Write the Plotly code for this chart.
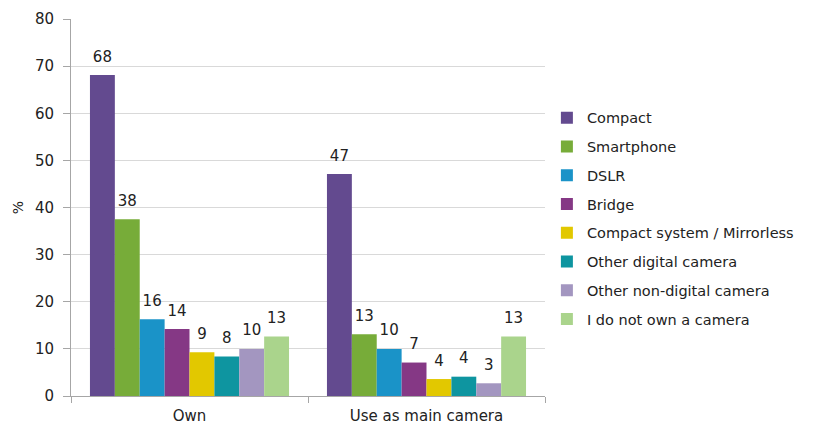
import plotly.graph_objects as go

groups = ["Own", "Use as main camera"]
camera_types = [
    "Compact",
    "Smartphone",
    "DSLR",
    "Bridge",
    "Compact system / Mirrorless",
    "Other digital camera",
    "Other non-digital camera",
    "I do not own a camera",
]
own = [68.1, 37.5, 16.3, 14.2, 9.3, 8.4, 10.0, 12.6]
main_camera = [47.1, 13.1, 10.0, 7.1, 3.6, 4.1, 2.7, 12.6]
colors = ["#634a8f", "#77ac39", "#1a93c8", "#853885", "#e2c800", "#0e95a0", "#a396c0", "#aad48c"]

font_family = "DejaVu Sans, Verdana, sans-serif"
text_color = "#222222"

fig = go.Figure()
for i, name in enumerate(camera_types):
    vals = [own[i], main_camera[i]]
    fig.add_trace(go.Bar(
        x=groups,
        y=vals,
        name=name,
        legendgroup=name,
        offsetgroup=name,
        alignmentgroup="all",
        marker=dict(color=colors[i], line=dict(width=0)),
    ))
    # value labels sitting above each bar
    fig.add_trace(go.Scatter(
        x=groups,
        y=vals,
        mode="markers+text",
        text=[f"{v:.0f}" for v in vals],
        textposition="top center",
        textfont=dict(size=15, color=text_color, family=font_family),
        marker=dict(size=14, color="rgba(0,0,0,0)"),
        offsetgroup=name,
        alignmentgroup="all",
        legendgroup=name,
        showlegend=False,
        hoverinfo="skip",
        cliponaxis=False,
    ))

fig.update_layout(
    width=819,
    height=427,
    margin=dict(l=71, r=274, t=19, b=31, autoexpand=False),
    paper_bgcolor="white",
    plot_bgcolor="white",
    barmode="group",
    scattermode="group",
    bargap=0.16,
    bargroupgap=0,
    scattergap=0.16,
    font=dict(family=font_family, size=15, color=text_color),
    showlegend=True,
    legend=dict(
        x=1.004, xanchor="left",
        y=0.47, yanchor="middle",
        font=dict(size=14.5, color=text_color, family=font_family),
        tracegroupgap=6.9,
        itemwidth=30,
        bgcolor="rgba(0,0,0,0)",
    ),
)

fig.update_xaxes(
    automargin=False,
    showline=True, linecolor="#a6a6a6", linewidth=1,
    ticks="outside", tickson="boundaries", ticklen=6, tickcolor="#a6a6a6",
    showgrid=False,
    ticklabelstandoff=6,
    tickfont=dict(size=15, family=font_family, color=text_color),
)
fig.update_yaxes(
    automargin=False,
    range=[0, 80], dtick=10,
    showline=True, linecolor="#a6a6a6", linewidth=1,
    ticks="outside", ticklen=7, tickcolor="#a6a6a6",
    showgrid=True, gridcolor="#d9d9d9", gridwidth=1,
    zeroline=False,
    ticklabelstandoff=6,
    tickfont=dict(size=15, family=font_family, color=text_color),
    title=dict(text="%", font=dict(size=14, family=font_family), standoff=8),
)

fig.write_html("out.html")
